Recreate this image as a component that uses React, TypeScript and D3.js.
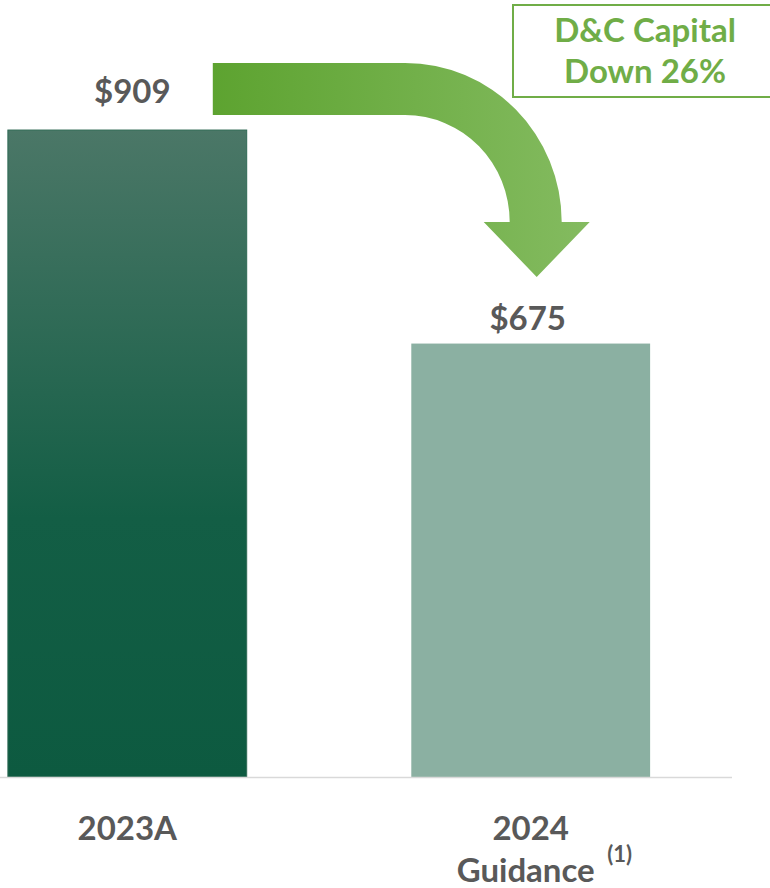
import React from "react";
import * as d3 from "d3";

const categories = ["2023A", "2024"];
const values = [909, 675];
const valueLabels = ["$909", "$675"];
const subLabels = ["", "Guidance"];
const noteMarks = ["", "(1)"];
const calloutLines = ["D&C Capital", "Down 26%"];

const W = 770;
const H = 888;
const FONT = "Lato, 'Open Sans', sans-serif";
const GRAY = "#595959";
const GREEN = "#70ad47";

export default function App() {
  const x = d3
    .scaleBand<string>()
    .domain(categories)
    .range([-72.8, 730.8])
    .paddingInner(0.408)
    .paddingOuter(0.2);
  const y = d3.scaleLinear().domain([200, 1000]).range([777, 47]);
  const bw = x.bandwidth();
  const base = y(200);

  const b0 = x(categories[0])!;
  const b1 = x(categories[1])!;
  const c1 = b1 + bw / 2;

  // arrow geometry derived from the bars
  const aLeft = b0 + bw * 0.858;
  const aTop = 63;
  const aBot = 115;
  const cx = 405;
  const cy = 222;
  const outerX = c1 + 31;
  const innerX = c1 - 21;
  const headL = c1 - 47;
  const headR = c1 + 59;
  const tipX = c1 + 6;
  const tipY = 277;
  const arrowPath = [
    `M${aLeft},${aTop}`,
    `L${cx},${aTop}`,
    `A${outerX - cx},${cy - aTop} 0 0 1 ${outerX},${cy}`,
    `L${headR},${cy}`,
    `L${tipX},${tipY}`,
    `L${headL},${cy}`,
    `L${innerX},${cy}`,
    `A${innerX - cx},${cy - aBot} 0 0 0 ${cx},${aBot}`,
    `L${aLeft},${aBot}`,
    "Z",
  ].join(" ");

  const labelGap = [27, 14];

  return (
    <svg width={W} height={H} style={{ display: "block", position: "absolute", left: 0, top: 0 }}>
      <defs>
        <linearGradient id="bar0" x1="0" y1="0" x2="0" y2="1">
          <stop offset="0" stopColor="#4b7767" />
          <stop offset="0.6" stopColor="#135e45" />
          <stop offset="1" stopColor="#0d5a40" />
        </linearGradient>
        <linearGradient id="arrowGrad" gradientUnits="userSpaceOnUse" x1={aLeft} y1="0" x2={headR} y2="0">
          <stop offset="0" stopColor="#5da330" />
          <stop offset="1" stopColor="#84bb60" />
        </linearGradient>
      </defs>
      <rect width={W} height={H} fill="#fff" />

      {categories.map((c, i) => (
        <rect
          key={c}
          x={x(c)}
          y={y(values[i])}
          width={bw}
          height={base - y(values[i])}
          fill={i === 0 ? "url(#bar0)" : "#8bb0a2"}
          stroke={i === 0 ? "#2f6a55" : "none"}
          strokeWidth={1}
        />
      ))}

      <line x1={0} x2={732} y1={base + 0.5} y2={base + 0.5} stroke="#d9d9d9" strokeWidth={1.5} />

      {categories.map((c, i) => (
        <text
          key={"v" + c}
          x={x(c)! + bw / 2 + (i === 0 ? 5 : -3)}
          y={y(values[i]) - labelGap[i]}
          textAnchor="middle"
          fontFamily={FONT}
          fontWeight={700}
          fontSize={33}
          fill={GRAY}
        >
          {valueLabels[i]}
        </text>
      ))}

      {categories.map((c, i) => (
        <g key={"c" + c} fontFamily={FONT} fontWeight={700} fill={GRAY}>
          <text x={x(c)! + bw / 2} y={840} textAnchor="middle" fontSize={33}>
            {c}
          </text>
          {subLabels[i] && (
            <text x={x(c)! + bw / 2 - 5} y={882} textAnchor="middle" fontSize={33}>
              {subLabels[i]}
            </text>
          )}
          {noteMarks[i] && (
            <text x={x(c)! + bw / 2 + 89} y={862} textAnchor="middle" fontSize={22}>
              {noteMarks[i]}
            </text>
          )}
        </g>
      ))}

      <path d={arrowPath} fill="url(#arrowGrad)" />

      <rect x={513} y={5} width={270} height={92} fill="#fff" stroke={GREEN} strokeWidth={2} />
      {calloutLines.map((t, i) => (
        <text
          key={t}
          x={645}
          y={42 + i * 41}
          textAnchor="middle"
          fontFamily={FONT}
          fontWeight={700}
          fontSize={33}
          fill={GREEN}
        >
          {t}
        </text>
      ))}
    </svg>
  );
}
